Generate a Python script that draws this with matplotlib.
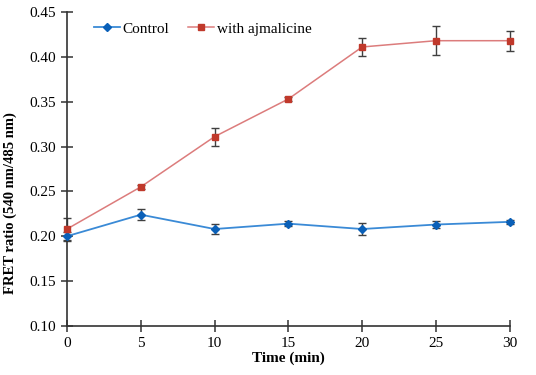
import numpy as np
import matplotlib.pyplot as plt

plt.rcParams['font.family'] = ['Liberation Serif', 'DejaVu Serif']

# data
time_min = [0, 5, 10, 15, 20, 25, 30]
control = [0.200, 0.224, 0.208, 0.214, 0.208, 0.213, 0.216]
control_err = [0.005, 0.006, 0.006, 0.003, 0.007, 0.004, 0.002]
ajmalicine = [0.208, 0.255, 0.311, 0.353, 0.411, 0.418, 0.418]
ajmalicine_err = [0.012, 0.002, 0.010, 0.002, 0.010, 0.016, 0.011]

fig = plt.figure(figsize=(5.36, 3.75), dpi=100)
ax = fig.add_axes([0.125, 0.131, 0.826, 0.837])

# error bars first, lines/markers on top (legend shows no error bars)
ax.errorbar(time_min, control, yerr=control_err, fmt='none', ecolor='#404040',
            elinewidth=1, capsize=3, clip_on=False, zorder=2)
ax.errorbar(time_min, ajmalicine, yerr=ajmalicine_err, fmt='none', ecolor='#404040',
            elinewidth=1, capsize=3, clip_on=False, zorder=2)
ax.plot(time_min, control, color='#3a8ad6', lw=1.3, marker='D', ms=4,
        mfc='#0a60b8', mec='#0a60b8', label='Control', clip_on=False, zorder=3)
ax.plot(time_min, ajmalicine, color='#dc7c7c', lw=1.1, marker='s', ms=4.5,
        mfc='#c0392b', mec='#c0392b', label='with ajmalicine', clip_on=False, zorder=3)

ax.set_xlim(0, 30)
ax.set_ylim(0.10, 0.45)
ax.set_xticks(time_min)
ax.set_yticks(np.arange(0.10, 0.451, 0.05))
ax.yaxis.set_major_formatter(plt.FormatStrFormatter('%.2f'))
for s in ['top', 'right']:
    ax.spines[s].set_visible(False)
for s in ['left', 'bottom']:
    ax.spines[s].set_color('#333333')
    ax.spines[s].set_linewidth(1.2)
ax.tick_params(direction='inout', length=8, width=1.1, color='#333333',
               labelsize=11, pad=4)

ax.set_xlabel('Time (min)', fontsize=11, fontweight='bold', labelpad=1)
ax.set_ylabel('FRET ratio (540 nm/485 nm)', fontsize=10.5, fontweight='bold')
ax.yaxis.set_label_coords(-0.112, 0.39)

ax.legend(loc='center left', bbox_to_anchor=(0.06, 0.946), borderaxespad=0,
          borderpad=0, ncol=2, frameon=False, fontsize=11, handlelength=1.7,
          handletextpad=0.2, columnspacing=1.2)

fig.savefig('out.png', dpi=100)
